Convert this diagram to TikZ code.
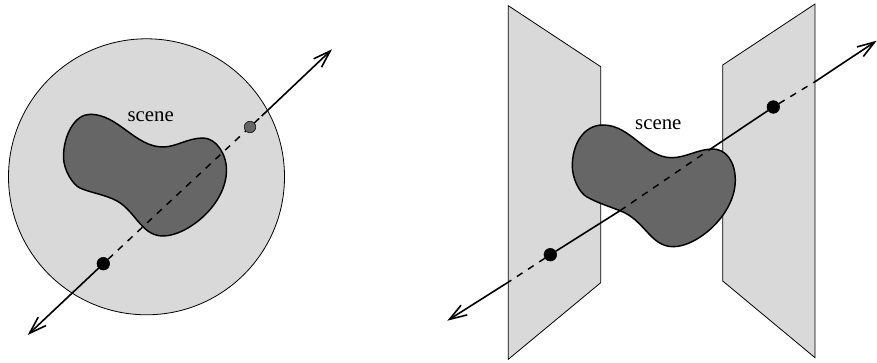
\documentclass[tikz,border=0pt]{standalone}
\usepackage{fontspec}
\setmainfont{Liberation Serif}
\usetikzlibrary{arrows.meta}
\definecolor{planegray}{HTML}{D9D9D9}
\definecolor{blobgray}{HTML}{666666}
\begin{document}
\begin{tikzpicture}[x=0.75pt,y=-0.75pt,>={Straight Barb[length=13pt,width=8.6pt]},
  surface/.style={draw=black,line width=0.6pt,fill=planegray},
  blob/.style={draw=black,line width=1.1pt,fill=blobgray},
  ray/.style={line width=1.2pt},
  hidden/.style={line width=1.1pt,dash pattern=on 5pt off 5pt},
  dot/.style={circle,draw=black,fill=black,inner sep=0pt,minimum size=9.5pt},
  label/.style={font=\fontsize{15.6}{18}\selectfont,inner sep=0pt}]
\useasboundingbox (0,0) rectangle (877,363);
% left
\draw[surface] (146.5,176.8) circle (138);
\draw[blob] (90,114.3) .. controls (118,114) and (135,147) .. (163,147)
  .. controls (176,147) and (188,138) .. (203,138)
  .. controls (216,138) and (226.5,154) .. (226.5,170)
  .. controls (226.5,205) and (187,236) .. (163,236)
  .. controls (140,236) and (135,208) .. (113,199)
  .. controls (100,193.5) and (90,192.5) .. (80,188)
  .. controls (73,185) and (63.5,170) .. (63.5,157)
  .. controls (63.5,135) and (75,114.3) .. (90,114.3) -- cycle;
\node[label] (sceneL) at (150.7,117) {scene};
\node[dot] (hitL) at (103.3,263.7) {};
\node[dot,fill=blobgray,minimum size=8.6pt] (backL) at (250,127) {};
\coordinate (tailL) at (27.7,335);
\coordinate (headL) at (332,49.3);
\coordinate (exitL) at (261.7,116);
\draw[->,ray] (hitL) -- (tailL);
\draw[hidden] (hitL) -- (backL);
\draw[hidden] (backL) -- (exitL);
\draw[->,ray] (exitL) -- (headL);
% right
\draw[surface] (508.3,5.7) -- (600.7,66.7) -- (600.7,282.7) -- (508.3,359.3) -- cycle;
\draw[surface] (722.7,65) -- (815,4) -- (815,357.7) -- (722.7,281) -- cycle;
\draw[blob] (603,125) .. controls (631,125) and (645,157.7) .. (671.7,157.7)
  .. controls (686,157.7) and (698,149) .. (713,149)
  .. controls (726,149) and (735.3,162) .. (735.3,180)
  .. controls (735.3,215) and (697,246.7) .. (673.3,246.7)
  .. controls (650,246.7) and (645,220) .. (620,210.7)
  .. controls (608,206) and (598,203) .. (587,197)
  .. controls (579,192.6) and (572.3,178) .. (572.3,166)
  .. controls (572.3,145) and (583,125) .. (603,125) -- cycle;
\node[label] (sceneR) at (658.3,125) {scene};
\node[dot] (hitR) at (550.3,254.7) {};
\node[dot] (backR) at (773.3,107) {};
\coordinate (tailR) at (447.3,320.7);
\coordinate (headR) at (876.7,40.7);
\coordinate (inR) at (509.3,281.5);
\coordinate (blobinR) at (620,210.7);
\coordinate (bloboutR) at (708.3,150.5);
\coordinate (outR) at (815,81.7);
\draw[->,ray] (inR) -- (tailR);
\draw[hidden] (hitR) -- (inR);
\draw[ray] (hitR) -- (blobinR);
\draw[hidden] (blobinR) -- (bloboutR);
\draw[ray] (bloboutR) -- (backR);
\draw[hidden] (backR) -- (outR);
\draw[->,ray] (outR) -- (headR);
\end{tikzpicture}
\end{document}
